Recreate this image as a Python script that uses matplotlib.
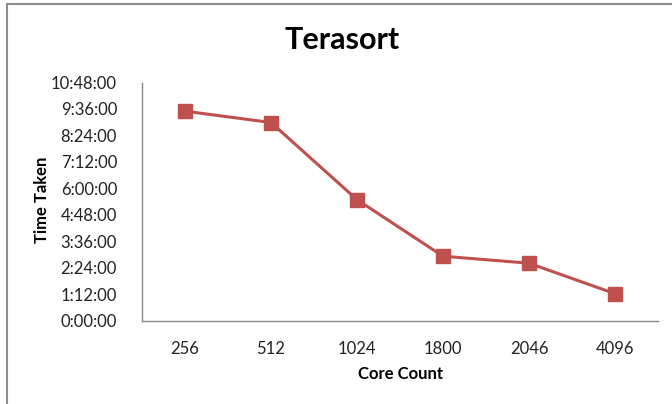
import matplotlib
matplotlib.use("Agg")
import matplotlib.pyplot as plt
from matplotlib.ticker import FuncFormatter, MultipleLocator

categories = ["256", "512", "1024", "1800", "2046", "4096"]
# time taken in minutes
time_minutes = [570, 539, 329, 175, 156, 73]

title = "Terasort"
xlabel = "Core Count"
ylabel = "Time Taken"

plt.rcParams['font.family'] = ['Lato', 'DejaVu Sans']

fig = plt.figure(figsize=(6.72, 4.04), dpi=100)
ax = fig.add_axes([142/672, (404-320.5)/404, 516/672, 238/404])

color = "#C0504D"
x = list(range(len(categories)))
ax.plot(x, time_minutes, color=color, lw=2.2, marker='s', markersize=10,
        markerfacecolor=color, markeredgecolor=color)

ax.set_xlim(-0.5, len(categories) - 0.5)
ax.set_ylim(0, 648)
ax.yaxis.set_major_locator(MultipleLocator(72))

def fmt(v, pos):
    m = int(round(v))
    return f"{m // 60}:{m % 60:02d}:00"

ax.yaxis.set_major_formatter(FuncFormatter(fmt))
ax.set_xticks(x)
ax.set_xticklabels(categories)

for s in ['top', 'right']:
    ax.spines[s].set_visible(False)
for s in ['left', 'bottom']:
    ax.spines[s].set_color('#888888')
    ax.spines[s].set_linewidth(1)

ax.tick_params(axis='both', length=0, labelsize=12, colors='#222222')
ax.tick_params(axis='y', pad=18)
ax.tick_params(axis='x', pad=15)

fig.text(342/672, 1 - 40/404, title, ha='center', va='center',
         fontsize=22, fontweight='bold')
fig.text(400/672, 1 - 374/404, xlabel, ha='center', va='center',
         fontsize=12, fontweight='bold')
fig.text(42/672, 1 - 200/404, ylabel, ha='center', va='center',
         fontsize=12, fontweight='bold', rotation=90)

# outer chart frame (left and top edges visible)
fig.add_artist(plt.Line2D([6.5/672, 6.5/672], [0, 1 - 3.5/404],
                          transform=fig.transFigure, color='#8c8c8c', lw=1.5))
fig.add_artist(plt.Line2D([6.5/672, 1], [1 - 3.5/404, 1 - 3.5/404],
                          transform=fig.transFigure, color='#8c8c8c', lw=1.5))

fig.savefig("out.png", dpi=100)
